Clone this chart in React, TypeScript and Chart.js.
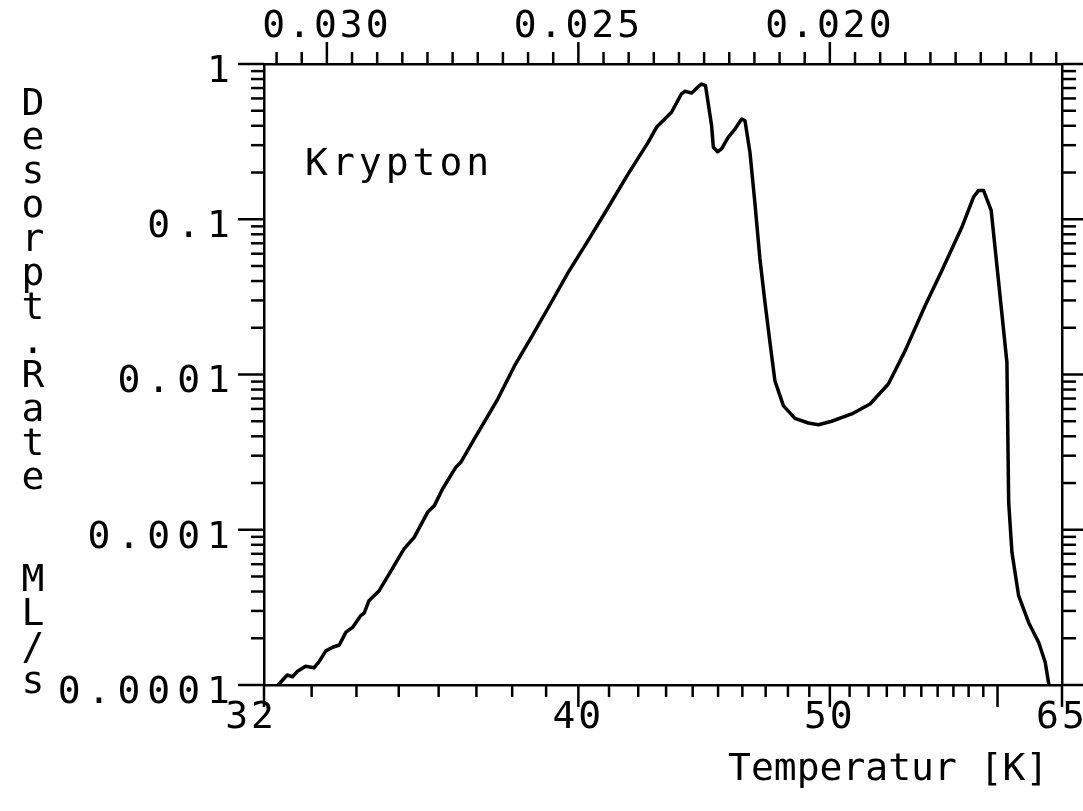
import React, { useEffect, useRef } from 'react';
import { Chart, registerables } from 'chart.js';

Chart.register(...registerables);

// ---- data ----
const temperatureK = [
  32.29, 32.48, 32.59, 32.69, 32.87, 33.05, 33.16, 33.31, 33.46, 33.61,
  33.76, 33.91, 34.10, 34.18, 34.29, 34.53, 34.77, 35.13, 35.38, 35.72,
  35.89, 36.10, 36.45, 36.58, 36.94, 37.59, 38.07, 38.56, 39.16, 39.68,
  40.31, 40.97, 41.65, 42.35, 42.65, 43.20, 43.57, 43.70, 43.96, 44.19,
  44.34, 44.50, 44.74, 44.81, 44.98, 45.14, 45.41, 45.69, 45.97, 46.11,
  46.32, 46.53, 46.75, 46.97, 47.19, 47.41, 47.79, 48.32, 48.95, 49.44,
  50.09, 51.11, 52.08, 53.09, 54.04, 55.23, 56.26, 57.55, 58.33, 58.67,
  59.02, 59.55, 60.08, 60.68, 60.81, 61.05, 61.55, 62.31, 63.10, 63.62,
  63.92,
];
const desorptionRate = [
  1.0e-4, 1.16e-4, 1.13e-4, 1.22e-4, 1.32e-4, 1.29e-4, 1.41e-4, 1.66e-4, 1.75e-4, 1.81e-4,
  2.19e-4, 2.35e-4, 2.80e-4, 2.91e-4, 3.49e-4, 4.05e-4, 5.19e-4, 7.52e-4, 8.94e-4, 1.30e-3,
  1.43e-3, 1.83e-3, 2.53e-3, 2.72e-3, 3.84e-3, 6.95e-3, 0.0114, 0.0174, 0.0292, 0.0455,
  0.0728, 0.119, 0.196, 0.313, 0.391, 0.489, 0.641, 0.667, 0.650, 0.708,
  0.743, 0.725, 0.401, 0.291, 0.272, 0.284, 0.337, 0.381, 0.442, 0.431,
  0.270, 0.129, 0.0555, 0.0292, 0.0161, 0.00912, 0.00630, 0.00522, 0.00487, 0.00475,
  0.00500, 0.00557, 0.00646, 0.00869, 0.0142, 0.0277, 0.0466, 0.0887, 0.139, 0.153,
  0.153, 0.114, 0.0393, 0.0120, 0.00150, 0.000716, 0.000376, 0.000253, 0.000188, 0.000140,
  0.000100,
];

// ---- axes ----
const tempMin = 32;
const tempMax = 65;
const bottomTickTemps = [
  32, 33, 34, 35, 36, 37, 38, 39, 40, 41, 42, 43, 44, 45, 46, 47, 48, 49, 50,
  51, 52, 53, 54, 55, 56, 57, 58, 59, 60, 65,
];
const bottomMajorTemps = [32, 40, 50, 60, 65];
const bottomLabelTemps = [32, 40, 50, 65];
const bottomLabels = ['32 ', '40', '50', '65'];

const topTickValues = [
  0.0155, 0.016, 0.0165, 0.017, 0.0175, 0.018, 0.0185, 0.019, 0.0195, 0.020,
  0.0205, 0.021, 0.0215, 0.022, 0.0225, 0.023, 0.0235, 0.024, 0.0245, 0.025,
  0.0255, 0.026, 0.0265, 0.027, 0.0275, 0.028, 0.0285, 0.029, 0.0295, 0.030,
  0.0305, 0.031,
];
const topMajorValues = [0.020, 0.025, 0.030];
const topLabels = ['0.020', '0.025', '0.030'];

const yMin = 0.0001;
const yMax = 1;
const yDecades = [0.0001, 0.001, 0.01, 0.1, 1];
const yDecadeLabels = ['0.0001', '0.001', '0.01', '0.1', '1'];
const yMinorMultipliers = [2, 3, 4, 5, 6, 7, 8, 9];

const yTitle = 'Desorpt.Rate  ML/s';
const xTitle = 'Temperatur [K]';
const seriesName = 'Krypton';

const FONT = "'DejaVu Sans Mono', monospace";
const W = 1083;
const H = 811;

const near = (a: number, b: number) => Math.abs(a - b) < 1e-9;

function logTicks() {
  const out: { value: number }[] = [];
  yDecades.forEach((d, i) => {
    out.push({ value: d });
    if (i < yDecades.length - 1) yMinorMultipliers.forEach((m) => out.push({ value: m * d }));
  });
  return out;
}

const isDecade = (v: number) => yDecades.some((d) => Math.abs(v / d - 1) < 1e-6);

const plotterPlugin = {
  id: 'plotter',
  beforeDraw(chart: any) {
    // left axis labels (ticks.z = -1) are drawn with wider spacing
    chart.ctx.letterSpacing = '7px';
  },
  beforeDatasetsDraw(chart: any) {
    chart.ctx.letterSpacing = '3px';
  },
  afterDraw(chart: any) {
    const ctx = chart.ctx as CanvasRenderingContext2D;
    const { left, right, top, bottom } = chart.chartArea;
    ctx.save();
    ctx.strokeStyle = '#000';
    ctx.fillStyle = '#000';
    ctx.lineWidth = 2.5;
    ctx.lineCap = 'butt';
    const line = (x1: number, y1: number, x2: number, y2: number) => {
      ctx.beginPath();
      ctx.moveTo(x1, y1);
      ctx.lineTo(x2, y2);
      ctx.stroke();
    };
    const sx = chart.scales.x;
    sx.ticks.forEach((t: any) => {
      const T = Math.round(1 / t.value);
      const px = sx.getPixelForValue(t.value);
      line(px, bottom, px, bottom + (bottomMajorTemps.includes(T) ? 22 : 12));
    });
    const sx2 = chart.scales.x2;
    sx2.ticks.forEach((t: any) => {
      const px = sx2.getPixelForValue(t.value);
      const major = topMajorValues.some((v) => near(v, t.value));
      line(px, top, px, top - (major ? 22 : 12));
    });
    const sy = chart.scales.y;
    sy.ticks.forEach((t: any) => {
      const py = sy.getPixelForValue(t.value);
      line(left, py, left - (isDecade(t.value) ? 26 : 13), py);
    });
    const sy2 = chart.scales.y2;
    sy2.ticks.forEach((t: any) => {
      const py = sy2.getPixelForValue(t.value);
      line(right, py, right + (isDecade(t.value) ? 22 : 14), py);
    });

    // texts
    ctx.font = `38px ${FONT}`;
    ctx.textBaseline = 'alphabetic';
    (ctx as any).letterSpacing = '0px';
    ctx.textAlign = 'center';
    Array.from(yTitle).forEach((ch, i) => {
      if (ch !== ' ') ctx.fillText(ch, 33, 115 + i * 34);
    });
    ctx.textAlign = 'left';
    ctx.fillText(xTitle, 728, 780);
    (ctx as any).letterSpacing = '4px';
    ctx.fillText(seriesName, 305, 175);
    ctx.restore();
  },
};

export default function App() {
  const ref = useRef<HTMLCanvasElement | null>(null);
  useEffect(() => {
    document.body.style.margin = '0';
    if (!ref.current) return;
    const tickFont = { family: FONT, size: 38, lineHeight: 1 };
    const chart = new Chart(ref.current, {
      type: 'line',
      data: {
        datasets: [
          {
            label: seriesName,
            data: temperatureK.map((t, i) => ({ x: 1 / t, y: desorptionRate[i] })),
            borderColor: '#000',
            borderWidth: 3.5,
            pointRadius: 0,
            tension: 0,
            fill: false,
            borderJoinStyle: 'round',
            borderCapStyle: 'round',
          },
        ],
      },
      options: {
        responsive: false,
        maintainAspectRatio: false,
        devicePixelRatio: 1,
        animation: false,
        events: [],
        layout: { padding: 0 },
        plugins: { legend: { display: false }, tooltip: { enabled: false } },
        scales: {
          x: {
            type: 'linear',
            position: 'bottom',
            min: 1 / tempMax,
            max: 1 / tempMin,
            reverse: true,
            grid: { display: false, drawTicks: false },
            border: { display: true, color: '#000', width: 2.5 },
            afterBuildTicks: (s: any) => {
              s.ticks = bottomTickTemps.map((t) => ({ value: 1 / t }));
            },
            afterFit: (s: any) => {
              s.height = H - 685;
              s.paddingLeft = 0;
              s.paddingRight = 0;
            },
            ticks: {
              z: 1,
              autoSkip: false,
              maxRotation: 0,
              minRotation: 0,
              padding: 14,
              color: '#000',
              font: tickFont,
              callback: (v: any) => {
                const T = Math.round(1 / Number(v));
                const i = bottomLabelTemps.indexOf(T);
                return i >= 0 ? bottomLabels[i] : '';
              },
            },
          },
          x2: {
            type: 'linear',
            position: 'top',
            min: 1 / tempMax,
            max: 1 / tempMin,
            reverse: true,
            grid: { display: false, drawTicks: false },
            border: { display: true, color: '#000', width: 2.5 },
            afterBuildTicks: (s: any) => {
              s.ticks = topTickValues.map((v) => ({ value: v }));
            },
            afterFit: (s: any) => {
              s.height = 64;
              s.paddingLeft = 0;
              s.paddingRight = 0;
            },
            ticks: {
              z: 1,
              autoSkip: false,
              maxRotation: 0,
              minRotation: 0,
              padding: 18,
              color: '#000',
              font: tickFont,
              callback: (v: any) => {
                const i = topMajorValues.findIndex((m) => near(m, Number(v)));
                return i >= 0 ? topLabels[i] : '';
              },
            },
          },
          y: {
            type: 'logarithmic',
            position: 'left',
            min: yMin,
            max: yMax,
            grid: { display: false, drawTicks: false },
            border: { display: true, color: '#000', width: 2.5 },
            afterBuildTicks: (s: any) => {
              s.ticks = logTicks();
            },
            afterFit: (s: any) => {
              s.width = 264;
              s.paddingTop = 0;
              s.paddingBottom = 0;
            },
            ticks: {
              z: -1,
              autoSkip: false,
              padding: 27,
              labelOffset: 8,
              color: '#000',
              font: tickFont,
              callback: (v: any) => {
                const i = yDecades.findIndex((d) => Math.abs(Number(v) / d - 1) < 1e-6);
                return i >= 0 ? yDecadeLabels[i] : '';
              },
            },
          },
          y2: {
            type: 'logarithmic',
            position: 'right',
            min: yMin,
            max: yMax,
            grid: { display: false, drawTicks: false },
            border: { display: true, color: '#000', width: 2.5 },
            afterBuildTicks: (s: any) => {
              s.ticks = logTicks();
            },
            afterFit: (s: any) => {
              s.width = W - 1062;
              s.paddingTop = 0;
              s.paddingBottom = 0;
            },
            ticks: { display: false },
          },
        },
      } as any,
      plugins: [plotterPlugin],
    });
    return () => chart.destroy();
  }, []);
  return (
    <div style={{ width: W, height: H, background: '#fff' }}>
      <canvas ref={ref} width={W} height={H} style={{ display: 'block' }} />
    </div>
  );
}
